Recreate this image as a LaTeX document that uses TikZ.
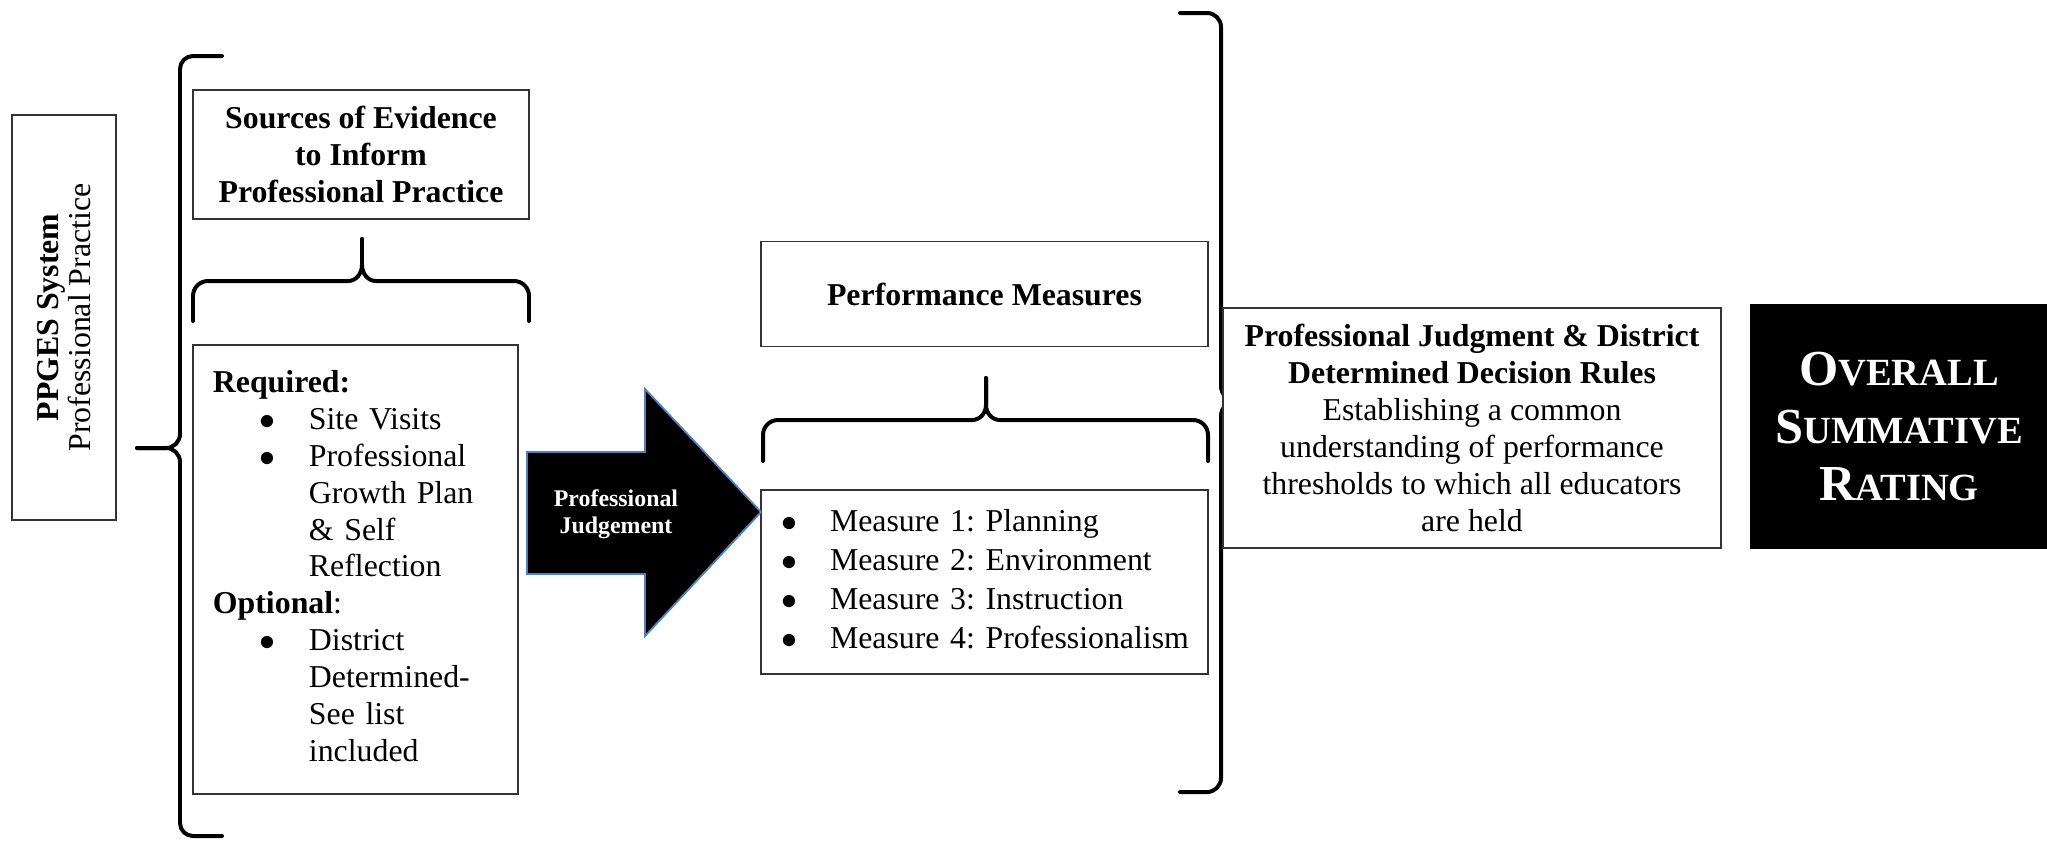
\documentclass[tikz,border=0pt]{standalone}
\usepackage{fontspec}
\setmainfont{Liberation Serif}
\usetikzlibrary{positioning}
\definecolor{arrowblue}{HTML}{4F81BD}
\definecolor{boxline}{HTML}{333333}
\newcommand{\SC}[2]{{\fontsize{19}{22}\selectfont#1}{\fontsize{14.5}{22}\selectfont#2}}
\newcommand{\bul}{$\bullet$}
\frenchspacing
\tikzset{
  box/.style={draw=boxline, line width=0.5pt, fill=white, inner sep=0pt,
    align=center, font=\fontsize{12}{13.9}\selectfont},
  brace/.style={line width=1.5pt, line cap=round, line join=round},
}

\begin{document}
\begin{tikzpicture}[x=0.377pt, y=-0.377pt]

  \newcommand\U{0.377pt}
  \useasboundingbox (0,0) rectangle (2047,840);

  %% big braces
  \draw[brace] (222,56) -- (193,56) to[out=180,in=90] (180,69) -- (180,434)
    to[out=-90,in=0] (166,448) -- (137,448);
  \draw[brace] (137,448) -- (166,448) to[out=0,in=90] (180,462) -- (180,823)
    to[out=-90,in=180] (193,836) -- (222,836);

  \draw[brace] (1180,13) -- (1207,13) to[out=0,in=90] (1221,27) -- (1221,386)
    to[out=-90,in=180] (1236,401) -- (1264,401);
  \draw[brace] (1264,401) -- (1236,401) to[out=180,in=90] (1221,416) -- (1221,778)
    to[out=-90,in=0] (1207,792) -- (1180,792);

  %% small braces
  \draw[brace] (193,321) -- (193,296) to[out=90,in=180] (208,281) -- (348,281)
    to[out=0,in=-90] (362,265) -- (362,239);
  \draw[brace] (362,239) -- (362,265) to[out=-90,in=180] (376,281) -- (514,281)
    to[out=0,in=90] (529,296) -- (529,321);

  \draw[brace] (763,461) -- (763,435) to[out=90,in=180] (778,420) -- (972,420)
    to[out=0,in=-90] (986,405) -- (986,378);
  \draw[brace] (986,378) -- (986,405) to[out=-90,in=180] (1000,420) -- (1193,420)
    to[out=0,in=90] (1208,435) -- (1208,461);

  %% boxes
  \node[box, rotate=90, minimum width=405*\U, minimum height=104*\U,
    font=\fontsize{12}{11}\selectfont] (ppges) at (64,317.5)
    {\textbf{PPGES System}\\Professional Practice};

  \node[box, minimum width=336*\U, minimum height=129*\U] (sources) at (361,154.5)
    {\textbf{Sources of Evidence}\\\textbf{to Inform}\\\textbf{Professional Practice}};

  \node[box, minimum width=325*\U, minimum height=449*\U, text width=107.5pt,
    inner xsep=7.5pt, align=left] (evidence) at (355.5,569.5)
    {\noindent\begin{tabular}{@{\hspace{17.7pt}}l@{\hspace{12.5pt}}l@{}}
      \multicolumn{2}{@{}l}{\textbf{Required:}}\\
      \bul & Site Visits\\
      \bul & Professional\\
           & Growth Plan\\
           & \& Self\\
           & Reflection\\
      \multicolumn{2}{@{}l}{\textbf{Optional}:}\\
      \bul & District\\
           & Determined-\\
           & See list\\
           & included
    \end{tabular}};

  \node[box, minimum width=447*\U, minimum height=105*\U] (perf) at (984.5,294)
    {\textbf{Performance Measures}};

  \node[box, minimum width=447*\U, minimum height=184*\U, text width=153.3pt,
    inner xsep=7.6pt, align=left, font=\fontsize{12}{14.7}\selectfont]
    (measures) at (984.5,582)
    {\noindent\begin{tabular}{@{}l@{\hspace{12.4pt}}l@{}}
      \bul & Measure 1: Planning\\
      \bul & Measure 2: Environment\\
      \bul & Measure 3: Instruction\\
      \bul & Measure 4: Professionalism
    \end{tabular}};

  \node[box, minimum width=498*\U, minimum height=240*\U] (rules) at (1472,428)
    {\textbf{Professional Judgment \& District}\\
     \textbf{Determined Decision Rules}\\
     Establishing a common\\
     understanding of performance\\
     thresholds to which all educators\\
     are held};

  \node[box, fill=black, draw=black, text=white, minimum width=296*\U,
    minimum height=243*\U, font=\bfseries\fontsize{19}{21.5}\selectfont]
    (rating) at (1899,426.5)
    {\SC{O}{VERALL}\\\SC{S}{UMMATIVE}\\\SC{R}{ATING}};

  %% block arrow
  \draw[fill=black, draw=arrowblue, line width=0.7pt, line join=miter]
    (527,452) -- (645,452) -- (645,389) -- (761,512) -- (645,636)
    -- (645,574) -- (527,574) -- cycle;
  \node[text=white, align=center, font=\bfseries\fontsize{9}{10.3}\selectfont]
    (judge) at (616,514) {Professional\\Judgement};

\end{tikzpicture}
\end{document}
